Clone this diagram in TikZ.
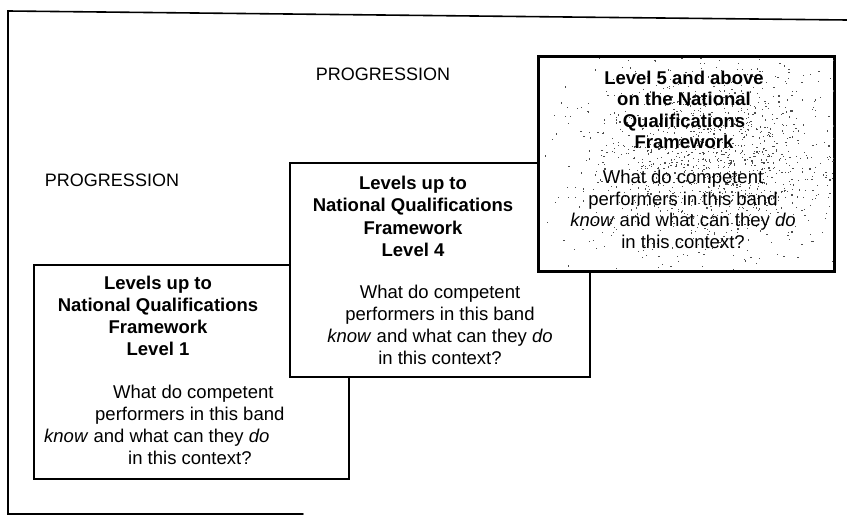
\documentclass[tikz,border=0pt]{standalone}
\usepackage{fontspec}
\setmainfont{Liberation Sans}
\begin{document}
\begin{tikzpicture}[x=1pt,y=-1pt,
  frame/.style={line width=1.6pt, line cap=round},
  card/.style={draw, line width=1.8pt, fill=white, anchor=north west, inner sep=0pt},
  ttl/.style={font=\bfseries\fontsize{18.5}{22}\selectfont, inner sep=0pt, anchor=base},
  txt/.style={font=\fontsize{18.5}{22}\selectfont, inner sep=0pt, anchor=base},
  txtl/.style={txt, anchor=base west},
  lbl/.style={font=\fontsize{18}{22}\selectfont, inner sep=0pt, anchor=base}]
\useasboundingbox (0,0) rectangle (847,516);
\fill[white] (0,0) rectangle (847,516);

% outer frame (open on the right)
\coordinate (ftl) at (8,11);
\coordinate (ftr) at (847,20);
\coordinate (fbl) at (8,514);
\coordinate (fbr) at (303,514);
\draw[frame] (ftr) -- (ftl) -- (fbl) -- (fbr);

% side labels
\node[lbl] (prog1) at (383,81) {PROGRESSION};
\node[lbl] (prog2) at (112,187) {PROGRESSION};

% band 1
\node[card, minimum width=315pt, minimum height=214pt] (c1) at (33,264) {};
\foreach \t [count=\i] in {Levels up to, National Qualifications, Framework, Level 1}
  \node[ttl] (c1t\i) at (158, 289.5+22*\i-22) {\t};
\node[txtl] (c1b1) at (113,398.5) {What do competent};
\node[txtl] (c1b2) at (95,420.5) {performers in this band};
\node[txtl] (c1b3) at (44,442.5) {\textit{know} and what can they \textit{do}};
\node[txtl] (c1b4) at (128,464.5) {in this context?};

% band 2
\node[card, minimum width=300pt, minimum height=214pt] (c2) at (289,162) {};
\foreach \t [count=\i] in {Levels up to, National Qualifications, Framework, Level 4}
  \node[ttl] (c2t\i) at (413, 189.5+22.5*\i-22.5) {\t};
\foreach \t [count=\i] in {What do competent, performers in this band,
    {\textit{know} and what can they \textit{do}}, in this context?}
  \node[txt] (c2b\i) at (440, 298.5+22*\i-22) {\t};

% band 3, with stippled shading
\node[card, minimum width=295pt, minimum height=214pt] (c3) at (538,56) {};
\begin{scope}
  \clip (c3.north west) rectangle (c3.south east);
  \pgfmathsetseed{11}
  \foreach \k in {1,...,1300}{
    \pgfmathsetmacro\px{710 + 65*(rand+rand+rand)}
    \pgfmathsetmacro\py{160 + 48*(rand+rand+rand)}
    \fill[black!70] (\px,\py) rectangle ++(1.2,1.2);
  }
\end{scope}
\draw[line width=2.1pt] (c3.north west) rectangle (c3.south east);
\foreach \t [count=\i] in {Level 5 and above, on the National, Qualifications, Framework}
  \node[ttl] (c3t\i) at (684, 84.5+21.3*\i-21.3) {\t};
\foreach \t [count=\i] in {What do competent, performers in this band,
    {\textit{know} and what can they \textit{do}}, in this context?}
  \node[txt] (c3b\i) at (683, 183.5+21.7*\i-21.7) {\t};
\end{tikzpicture}
\end{document}
